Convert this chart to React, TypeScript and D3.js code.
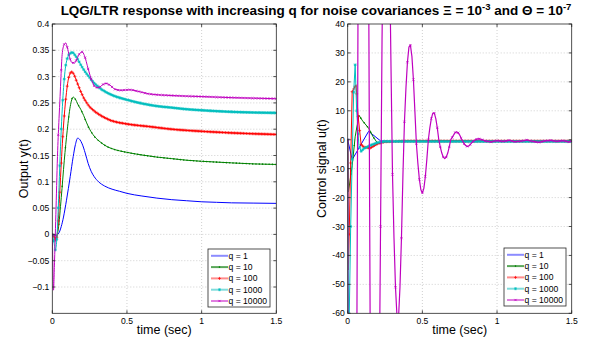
import React, { useEffect, useRef } from "react";
import * as d3 from "d3";

const seriesNames = ["q = 1", "q = 10", "q = 100", "q = 1000", "q = 10000"];
const seriesColors = ["#0000ff", "#008000", "#ff0000", "#00bfbf", "#bf00bf"];
const legendColors = ["#8c8cff", "#5aa85a", "#ff8c8c", "#7fdcdc", "#e07fe0"];
const seriesMarkers = ["", ".", "+", "*", "x"];
const markerStep = [0, 0.022, 0.01, 0.01, 0.02];

const xTicks = [0, 0.5, 1, 1.5];
const yTicksOut = [-0.1, -0.05, 0, 0.05, 0.1, 0.15, 0.2, 0.25, 0.3, 0.35, 0.4];
const yTicksCtl = [-60, -50, -40, -30, -20, -10, 0, 10, 20, 30, 40];

// Output y(t)
const outQ1 = [[0,0],[0.02,-0.002],[0.04,0.001],[0.06,0.015],[0.075,0.033],[0.095,0.065],[0.12,0.11],[0.14,0.148],[0.155,0.171],[0.17,0.183],[0.185,0.18],[0.2,0.172],[0.22,0.155],[0.24,0.135],[0.26,0.12],[0.28,0.11],[0.31,0.1],[0.35,0.092],[0.4,0.086],[0.45,0.082],[0.5,0.078],[0.6,0.073],[0.7,0.069],[0.8,0.066],[0.9,0.064],[1.0,0.062],[1.1,0.061],[1.2,0.06],[1.35,0.0595],[1.5,0.059]];
const outQ10 = [[0,0],[0.01,-0.003],[0.02,-0.007],[0.03,-0.004],[0.04,0.01],[0.06,0.07],[0.08,0.14],[0.1,0.198],[0.12,0.243],[0.14,0.261],[0.155,0.257],[0.17,0.248],[0.19,0.238],[0.21,0.226],[0.23,0.212],[0.25,0.2],[0.28,0.187],[0.32,0.176],[0.36,0.168],[0.4,0.163],[0.5,0.156],[0.6,0.151],[0.7,0.147],[0.8,0.144],[0.9,0.141],[1.0,0.139],[1.2,0.136],[1.35,0.134],[1.5,0.133]];
const outQ100 = [[0,0],[0.01,-0.004],[0.02,-0.011],[0.03,-0.006],[0.04,0.025],[0.05,0.08],[0.06,0.135],[0.07,0.185],[0.08,0.225],[0.095,0.27],[0.11,0.298],[0.13,0.309],[0.145,0.304],[0.165,0.29],[0.19,0.272],[0.22,0.255],[0.25,0.243],[0.28,0.235],[0.32,0.227],[0.39,0.217],[0.5,0.21],[0.65,0.205],[0.8,0.2],[1.0,0.196],[1.2,0.193],[1.5,0.19]];
const outQ1000 = [[0,0],[0.01,-0.012],[0.02,-0.03],[0.03,-0.01],[0.04,0.05],[0.05,0.13],[0.06,0.2],[0.07,0.255],[0.085,0.31],[0.1,0.334],[0.12,0.344],[0.135,0.346],[0.155,0.34],[0.175,0.331],[0.2,0.318],[0.245,0.3],[0.28,0.288],[0.32,0.278],[0.4,0.265],[0.5,0.256],[0.6,0.249],[0.7,0.244],[0.8,0.241],[0.9,0.238],[1.0,0.236],[1.2,0.233],[1.5,0.231]];
const outQ10000 = [[0,0],[0.004,-0.06],[0.008,-0.106],[0.015,-0.05],[0.025,0.05],[0.036,0.16],[0.045,0.22],[0.052,0.262],[0.058,0.3],[0.066,0.342],[0.078,0.36],[0.09,0.364],[0.1,0.356],[0.115,0.338],[0.13,0.327],[0.15,0.326],[0.17,0.337],[0.19,0.346],[0.2,0.347],[0.215,0.34],[0.24,0.315],[0.265,0.292],[0.29,0.28],[0.31,0.279],[0.335,0.284],[0.36,0.287],[0.385,0.284],[0.42,0.276],[0.46,0.274],[0.52,0.275],[0.56,0.273],[0.65,0.267],[0.8,0.264],[1.0,0.262],[1.2,0.26],[1.5,0.258]];

// Control signal u(t)
const ctlQ1 = [[0,0],[0.03,-6.9],[0.14,2.9],[0.22,-0.4],[0.3,-0.6],[0.6,-0.5],[1.0,-0.5],[1.5,-0.5]];
const ctlQ10 = [[0,0],[0.005,-18],[0.03,-9],[0.05,1],[0.075,8.5],[0.1,6.5],[0.14,4],[0.17,1],[0.2,-1.2],[0.25,-0.7],[0.4,-0.5],[1.0,-0.5],[1.5,-0.5]];
const ctlQ100 = [[0,0],[0.005,-45],[0.03,16.6],[0.056,19],[0.07,8],[0.09,-1.7],[0.11,-2.6],[0.15,-2.9],[0.2,-1.4],[0.25,-0.7],[0.4,-0.5],[1.0,-0.5],[1.5,-0.5]];
const ctlQ1000 = [[0,0],[0.006,-75],[0.02,-30],[0.04,16.4],[0.05,25.9],[0.06,10],[0.075,-2],[0.09,-4],[0.11,-3],[0.15,-2],[0.2,-1],[0.25,-0.6],[0.4,-0.6],[1.0,-0.6],[1.5,-0.6]];
const ctlQ10000 = [[0,0],[0.01,-500],[0.02,-640],[0.03,-600],[0.04,-450],[0.05,-270],[0.06,-90],[0.07,60],[0.08,200],[0.09,310],[0.1,360],[0.11,350],[0.12,290],[0.13,190],[0.14,60],[0.15,-60],[0.16,-140],[0.17,-190],[0.18,-205],[0.19,-190],[0.2,-150],[0.21,-95],[0.22,-30],[0.23,35],[0.24,80],[0.25,105],[0.26,110],[0.27,95],[0.28,65],[0.29,25],[0.3,-12],[0.31,-34],[0.32,-51],[0.33,-61],[0.34,-62],[0.35,-51],[0.36,-34],[0.37,-12],[0.38,6.2],[0.39,17.8],[0.4,26.8],[0.41,32],[0.42,32.7],[0.43,28.8],[0.44,20.8],[0.45,9.8],[0.46,-1.4],[0.47,-8.2],[0.48,-13.7],[0.49,-17.3],[0.5,-18.4],[0.51,-16.8],[0.52,-12.7],[0.53,-6.8],[0.54,0],[0.55,4.1],[0.56,7.3],[0.57,9.2],[0.58,9.2],[0.59,7.3],[0.6,4.1],[0.61,0],[0.62,-2.5],[0.63,-4.6],[0.64,-6.0],[0.65,-6.5],[0.66,-6.0],[0.67,-4.6],[0.68,-2.5],[0.69,0],[0.7,0.8],[0.71,1.7],[0.72,2.5],[0.73,2.7],[0.74,2.4],[0.75,1.6],[0.76,0.5],[0.77,-0.5],[0.78,-1.4],[0.79,-2.0],[0.8,-2.3],[0.81,-2.2],[0.82,-1.7],[0.83,-1.1],[0.84,-0.6],[0.85,-0.2],[0.86,0.1],[0.87,0.3],[0.88,0.3],[0.89,0.2],[0.9,0],[0.92,-0.4],[0.96,-0.8],[1.0,-0.3],[1.04,-0.6],[1.08,-0.2],[1.12,-0.7],[1.16,-0.5],[1.2,-0.1],[1.24,-0.6],[1.28,-0.9],[1.32,-0.4],[1.36,-0.2],[1.4,-0.6],[1.44,-0.3],[1.48,-0.8],[1.5,-0.5]];

const outSeries = [outQ1, outQ10, outQ100, outQ1000, outQ10000];
const ctlSeries = [ctlQ1, ctlQ10, ctlQ100, ctlQ1000, ctlQ10000];

const FONT = "'Liberation Sans', Arial, Helvetica, sans-serif";

function markerPath(type: string, x: number, y: number): string {
  const h = 1.5;
  let d = "";
  if (type === "+" || type === "*") d += `M${x - h},${y}H${x + h}M${x},${y - h}V${y + h}`;
  if (type === "x" || type === "*") {
    const k = type === "x" ? 1.1 : h * 0.72;
    d += `M${x - k},${y - k}L${x + k},${y + k}M${x - k},${y + k}L${x + k},${y - k}`;
  }
  return d;
}

function drawMarkers(g: any, type: string, pts: number[][], color: string) {
  if (!type) return;
  if (type === ".") {
    pts.forEach((p) => g.append("circle").attr("cx", p[0]).attr("cy", p[1]).attr("r", 0.8).attr("fill", color));
    return;
  }
  const d = pts.map((p) => markerPath(type, p[0], p[1])).join("");
  g.append("path").attr("d", d).attr("stroke", color).attr("stroke-width", 0.7).attr("fill", "none");
}

function interpLinear(data: number[][], t: number): number {
  const i = d3.bisector((d: number[]) => d[0]).right(data, t);
  if (i <= 0) return data[0][1];
  if (i >= data.length) return data[data.length - 1][1];
  const a = data[i - 1], b = data[i];
  return a[1] + ((b[1] - a[1]) * (t - a[0])) / (b[0] - a[0]);
}

function drawPanel(svg: any, opts: any) {
  const { x, y, yTicks, yFmt, series, curve, clipId, ylabel, legendBox, smooth } = opts;
  const [x0, x1] = x.range();
  const [yb, yt] = y.range();
  const g = svg.append("g");

  g.append("defs").append("clipPath").attr("id", clipId)
    .append("rect").attr("x", x0).attr("y", yt).attr("width", x1 - x0).attr("height", yb - yt);

  const grid = g.append("g").attr("stroke", "#c4c4c4").attr("stroke-width", 0.8).attr("stroke-dasharray", "1,2");
  xTicks.forEach((t) => {
    if (t === 0 || t === 1.5) return;
    grid.append("line").attr("x1", x(t)).attr("x2", x(t)).attr("y1", yt).attr("y2", yb);
  });
  yTicks.forEach((v: number) => {
    const yy = y(v);
    if (Math.abs(yy - yt) < 1 || Math.abs(yy - yb) < 1) return;
    grid.append("line").attr("x1", x0).attr("x2", x1).attr("y1", yy).attr("y2", yy);
  });

  const plot = g.append("g").attr("clip-path", `url(#${clipId})`);
  series.forEach((data: number[][], i: number) => {
    const line = d3.line<number[]>().x((d) => x(d[0])).y((d) => y(d[1])).curve(curve);
    const path = plot.append("path").attr("d", line(data)).attr("fill", "none")
      .attr("stroke", seriesColors[i]).attr("stroke-width", !smooth && i === 4 ? 1.2 : 1)
      .attr("stroke-linejoin", "round");
    const type = seriesMarkers[i];
    if (!type) return;
    const step = markerStep[i];
    const times: number[] = [];
    for (let t = 0; t <= 1.5 + 1e-9; t += step) times.push(t);
    let pts: number[][] = [];
    if (smooth) {
      const node = path.node() as SVGPathElement;
      const L = node.getTotalLength();
      const samples: { x: number; y: number }[] = [];
      for (let s = 0; s <= L; s += 0.4) {
        const p = node.getPointAtLength(s);
        samples.push({ x: p.x, y: p.y });
      }
      let k = 0;
      times.forEach((t) => {
        const tx = x(t);
        while (k < samples.length - 1 && samples[k].x < tx) k++;
        pts.push([tx, samples[k].y]);
      });
    } else {
      pts = times.map((t) => [x(t), y(interpLinear(data, t))]);
    }
    drawMarkers(plot, type, pts, seriesColors[i]);
  });

  g.append("rect").attr("x", x0).attr("y", yt).attr("width", x1 - x0).attr("height", yb - yt)
    .attr("fill", "none").attr("stroke", "#262626").attr("stroke-width", 0.8);

  const tk = g.append("g").attr("stroke", "#262626").attr("stroke-width", 0.8);
  xTicks.forEach((t) => {
    tk.append("line").attr("x1", x(t)).attr("x2", x(t)).attr("y1", yb).attr("y2", yb - 3);
    tk.append("line").attr("x1", x(t)).attr("x2", x(t)).attr("y1", yt).attr("y2", yt + 3);
  });
  yTicks.forEach((v: number) => {
    tk.append("line").attr("x1", x0).attr("x2", x0 + 3).attr("y1", y(v)).attr("y2", y(v));
    tk.append("line").attr("x1", x1).attr("x2", x1 - 3).attr("y1", y(v)).attr("y2", y(v));
  });

  const tl = g.append("g").attr("font-family", FONT).attr("font-size", 8.6).attr("fill", "#000");
  xTicks.forEach((t) => {
    tl.append("text").attr("x", x(t)).attr("y", 323.5).attr("text-anchor", "middle").text(String(t));
  });
  yTicks.forEach((v: number) => {
    tl.append("text").attr("x", x0 - 3).attr("y", y(v)).attr("dy", "0.35em").attr("text-anchor", "end").text(yFmt(v));
  });

  g.append("text").attr("x", (x0 + x1) / 2).attr("y", 334).attr("text-anchor", "middle")
    .attr("font-family", FONT).attr("font-size", 12.5).text("time (sec)");
  g.append("text").attr("transform", `translate(${ylabel.x},${(yt + yb) / 2}) rotate(-90)`)
    .attr("text-anchor", "middle").attr("font-family", FONT).attr("font-size", 12.5).text(ylabel.text);

  const lg = g.append("g");
  lg.append("rect").attr("x", legendBox.x).attr("y", legendBox.y).attr("width", legendBox.w).attr("height", legendBox.h)
    .attr("fill", "#fff").attr("stroke", "#262626").attr("stroke-width", 0.8);
  seriesNames.forEach((name, i) => {
    const ly = legendBox.y + 6.8 + i * 11.3;
    const lx0 = legendBox.x + 3;
    const lx1 = legendBox.x + 20;
    lg.append("line").attr("x1", lx0).attr("x2", lx1).attr("y1", ly).attr("y2", ly)
      .attr("stroke", legendColors[i]).attr("stroke-width", 2);
    drawMarkers(lg, seriesMarkers[i], [[(lx0 + lx1) / 2, ly]], seriesColors[i]);
    lg.append("text").attr("x", lx1 + 0.5).attr("y", ly).attr("dy", "0.35em")
      .attr("font-family", FONT).attr("font-size", 8.6).text(name);
  });
}

export default function App() {
  const ref = useRef<SVGSVGElement | null>(null);
  useEffect(() => {
    const svg = d3.select(ref.current);
    svg.selectAll("*").remove();
    svg.append("rect").attr("width", 595).attr("height", 345).attr("fill", "#fff");

    const xL = d3.scaleLinear().domain([0, 1.5]).range([52.3, 276.3]);
    const yL = d3.scaleLinear().domain([-0.15, 0.4]).range([313.3, 24]);
    drawPanel(svg, {
      x: xL, y: yL, yTicks: yTicksOut, yFmt: (v: number) => d3.format("")(+v.toFixed(2)),
      series: outSeries, curve: d3.curveMonotoneX, clipId: "clipL", smooth: true,
      ylabel: { x: 28, text: "Output y(t)" },
      legendBox: { x: 208, y: 249, w: 62, h: 58 },
    });

    const xR = d3.scaleLinear().domain([0, 1.5]).range([347.7, 571.7]);
    const yR = d3.scaleLinear().domain([-60, 40]).range([313.3, 24]);
    drawPanel(svg, {
      x: xR, y: yR, yTicks: yTicksCtl, yFmt: (v: number) => String(v),
      series: ctlSeries, curve: d3.curveLinear, clipId: "clipR", smooth: false,
      ylabel: { x: 326, text: "Control signal u(t)" },
      legendBox: { x: 504, y: 248, w: 62, h: 58 },
    });

    const title = svg.append("text").attr("x", 316).attr("y", 15).attr("text-anchor", "middle")
      .attr("font-family", FONT).attr("font-size", 13.5).attr("font-weight", "bold");
    title.append("tspan").text("LQG/LTR response with increasing q for noise covariances \u039E = 10");
    title.append("tspan").attr("dy", -5).attr("font-size", 9.5).text("-3");
    title.append("tspan").attr("dy", 5).text(" and \u0398 = 10");
    title.append("tspan").attr("dy", -5).attr("font-size", 9.5).text("-7");
  }, []);
  return (
    <svg ref={ref} width={595} height={345}
      style={{ position: "absolute", left: 0, top: 0, display: "block" }} />
  );
}
